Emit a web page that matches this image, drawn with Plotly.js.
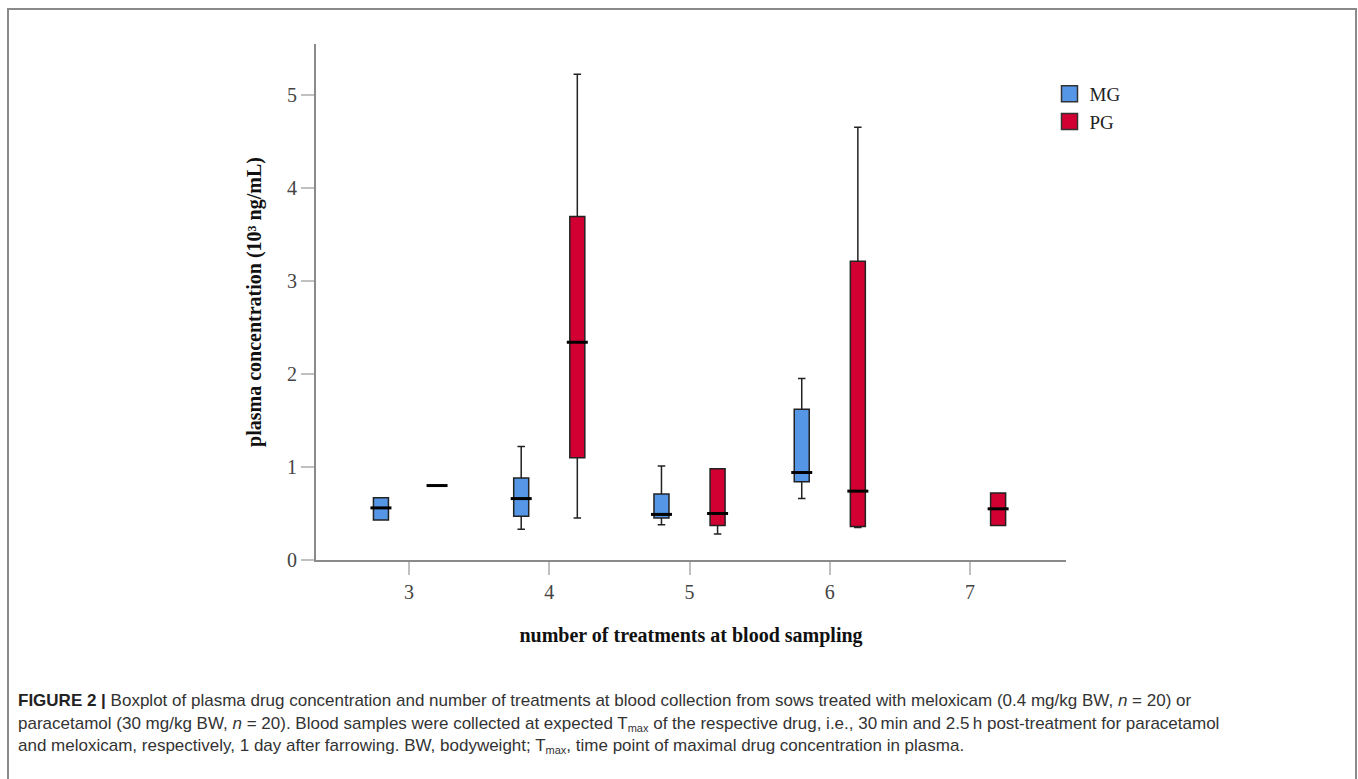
<!DOCTYPE html>
<html>
<head>
<meta charset="utf-8">
<script src="https://cdn.plot.ly/plotly-3.0.1.min.js"></script>
<style>
  html, body { margin: 0; padding: 0; background: #fff; }
  #wrap { position: relative; width: 1358px; height: 779px; overflow: hidden; background: #fff; }
  #chart { position: absolute; left: 0; top: 0; width: 1358px; height: 779px; }
  #frame { position: absolute; left: 7px; top: 8px; width: 1346px; height: 800px; border: 2px solid #8a8a8a; pointer-events: none; }
  #caption { position: absolute; left: 18px; top: 690px; width: 1330px; font-family: "Liberation Sans", Arial, sans-serif; font-size: 17px; line-height: 22.5px; color: #333; }
  #caption b { color: #222; }
  #caption sub { font-size: 11px; line-height: 0; vertical-align: -3px; }
</style>
</head>
<body>
<div id="wrap">
  <div id="chart"></div>
  <div id="frame"></div>
  <div id="caption">
    <b>FIGURE 2 |</b> Boxplot of plasma drug concentration and number of treatments at blood collection from sows treated with meloxicam (0.4 mg/kg BW, <i>n</i> = 20) or<br>
    paracetamol (30 mg/kg BW, <i>n</i> = 20). Blood samples were collected at expected T<sub>max</sub> of the respective drug, i.e., 30&#8201;min and 2.5&#8201;h post-treatment for paracetamol<br>
    and meloxicam, respectively, 1 day after farrowing. BW, bodyweight; T<sub>max</sub>, time point of maximal drug concentration in plasma.
  </div>
</div>
<script>
// number of treatments at blood sampling
const mgTreatments = [3, 4, 5, 6];
const pgTreatments = [3, 4, 5, 6, 7];

// MG (meloxicam group), plasma concentration (10^3 ng/mL)
const mgLower  = [0.43, 0.33, 0.38, 0.66];
const mgQ1     = [0.43, 0.47, 0.45, 0.84];
const mgMedian = [0.56, 0.66, 0.49, 0.94];
const mgQ3     = [0.67, 0.88, 0.71, 1.62];
const mgUpper  = [0.67, 1.22, 1.01, 1.95];

// PG (paracetamol group)
const pgLower  = [0.80, 0.45, 0.28, 0.35, 0.37];
const pgQ1     = [0.80, 1.10, 0.37, 0.36, 0.37];
const pgMedian = [0.80, 2.34, 0.50, 0.74, 0.55];
const pgQ3     = [0.80, 3.69, 0.98, 3.21, 0.72];
const pgUpper  = [0.80, 5.22, 0.98, 4.65, 0.72];

const xTickVals = [3, 4, 5, 6, 7];
const yTickVals = [0, 1, 2, 3, 4, 5];
const groupNames = ['MG', 'PG'];

const OFFSET = 0.2;
const BOXW = 0.107;
const serif = '"Liberation Serif", "Times New Roman", serif';
const MG_COLOR = '#5596e6';
const PG_COLOR = '#d20032';

function boxTrace(name, cats, lo, q1, med, q3, up, off, color) {
  return {
    type: 'box', name: name, showlegend: false,
    x: cats.map(c => c + off),
    lowerfence: lo, q1: q1, median: med, q3: q3, upperfence: up,
    boxpoints: false, width: BOXW, whiskerwidth: 0.5,
    fillcolor: color,
    line: { color: '#222', width: 1.5 },
    hoverinfo: 'skip'
  };
}
function medTrace(cats, med, off) {
  return {
    type: 'scatter', mode: 'markers', showlegend: false, hoverinfo: 'skip',
    x: cats.map(c => c + off), y: med,
    marker: { symbol: 'line-ew', size: 15, color: '#000', line: { color: '#000', width: 3 } }
  };
}
function legendTrace(name, color) {
  return {
    type: 'scatter', mode: 'markers', name: name, x: [null], y: [null], hoverinfo: 'skip',
    marker: { symbol: 'square', size: 16, color: color, line: { color: '#333', width: 1.5 } }
  };
}

const data = [
  boxTrace('MG', mgTreatments, mgLower, mgQ1, mgMedian, mgQ3, mgUpper, -OFFSET, MG_COLOR),
  boxTrace('PG', pgTreatments, pgLower, pgQ1, pgMedian, pgQ3, pgUpper, OFFSET, PG_COLOR),
  medTrace(mgTreatments, mgMedian, -OFFSET),
  medTrace(pgTreatments, pgMedian, OFFSET),
  legendTrace(groupNames[0], MG_COLOR),
  legendTrace(groupNames[1], PG_COLOR)
];

const layout = {
  width: 1358, height: 779,
  margin: { l: 316, r: 292, t: 44, b: 219 },
  paper_bgcolor: 'rgba(0,0,0,0)', plot_bgcolor: 'rgba(0,0,0,0)',
  showlegend: true,
  legend: {
    x: 0.978, xanchor: 'left', y: 0.94, yanchor: 'top',
    font: { family: serif, size: 19, color: '#222' },
    bgcolor: 'rgba(0,0,0,0)', tracegroupgap: 0, itemwidth: 30
  },
  xaxis: {
    range: [2.337, 7.684], tickvals: xTickVals, ticktext: xTickVals.map(String),
    showgrid: false, zeroline: false, showline: true, linecolor: '#8a8a8a', linewidth: 2,
    ticks: 'outside', ticklen: 13, tickwidth: 2, tickcolor: '#c0c0c0',
    tickfont: { family: serif, size: 20, color: '#444' },
    title: { text: '<b>number of treatments at blood sampling</b>', font: { family: serif, size: 20, color: '#111' }, standoff: 26 }
  },
  yaxis: {
    range: [0, 5.545], tickvals: yTickVals, ticktext: yTickVals.map(String),
    showgrid: false, zeroline: false, showline: true, linecolor: '#8a8a8a', linewidth: 2,
    ticks: 'outside', ticklen: 13, tickwidth: 2, tickcolor: '#c0c0c0',
    tickfont: { family: serif, size: 20, color: '#444' },
    title: { text: '<b>plasma concentration (10³ ng/mL)</b>', font: { family: serif, size: 20, color: '#111' }, standoff: 20 }
  }
};

Plotly.newPlot('chart', data, layout, { staticPlot: true, displayModeBar: false });
</script>
</body>
</html>
